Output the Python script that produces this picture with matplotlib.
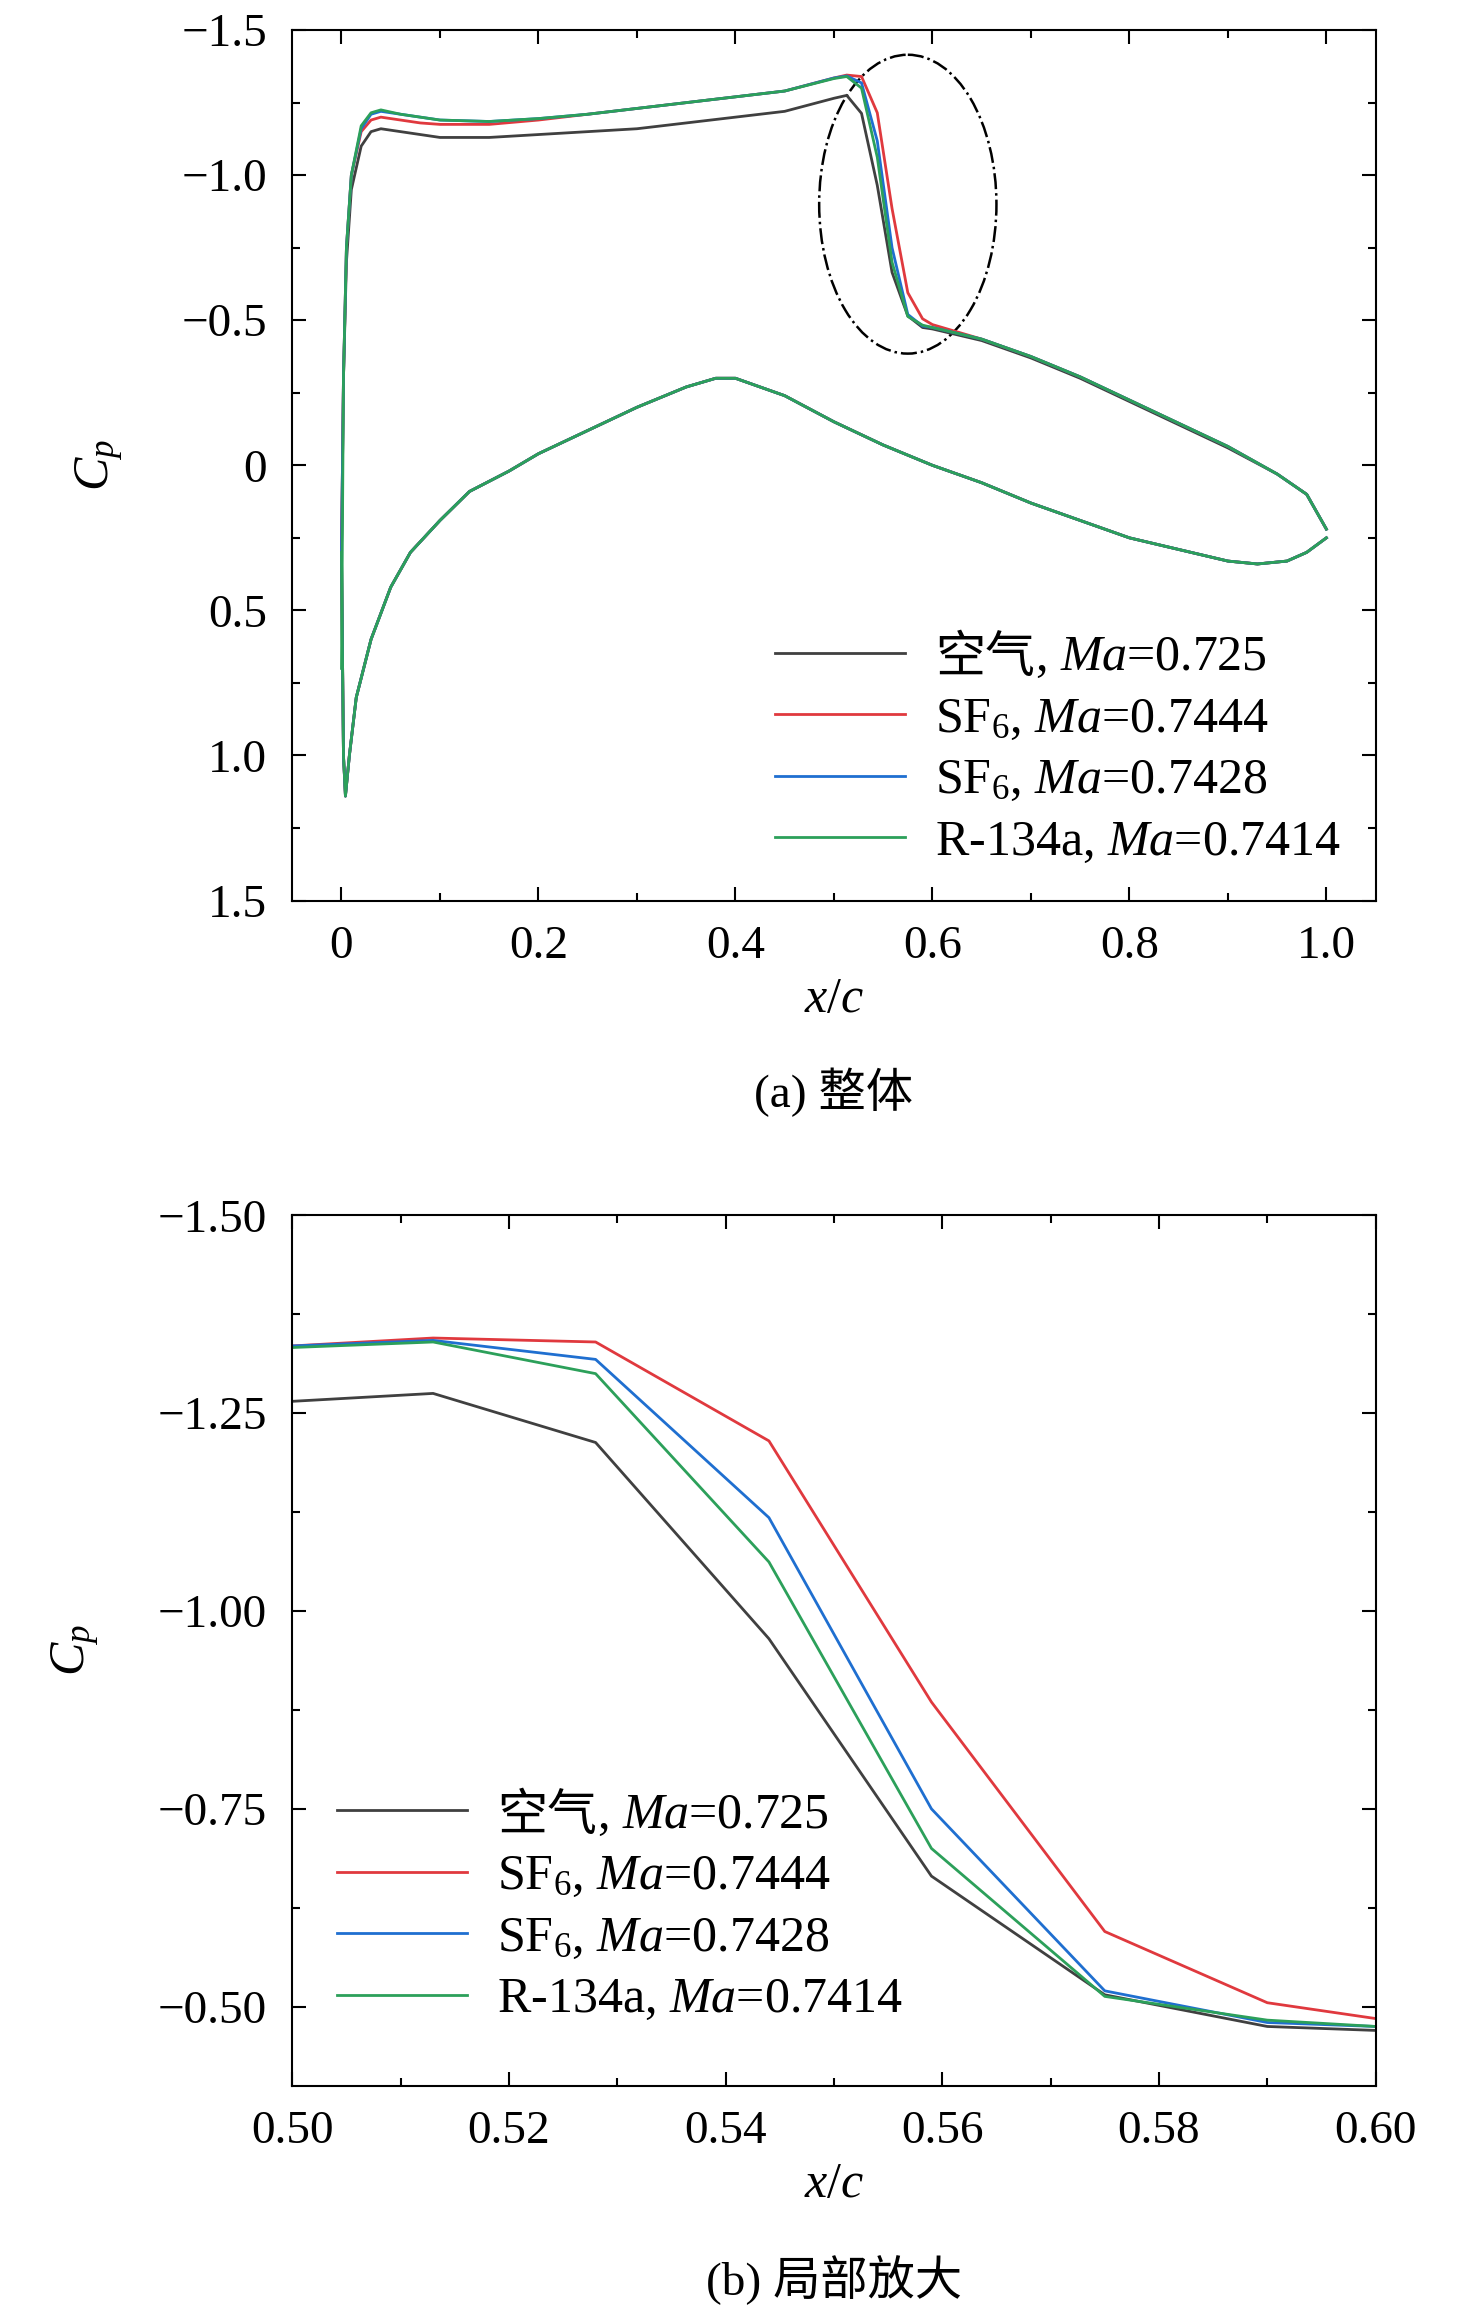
import numpy as np
import matplotlib
matplotlib.use("Agg")
import matplotlib.pyplot as plt
from matplotlib.patches import Ellipse
from matplotlib.ticker import MultipleLocator, FuncFormatter

plt.rcParams['font.family'] = ['Liberation Serif', 'Noto Sans CJK SC']
plt.rcParams['mathtext.fontset'] = 'custom'
plt.rcParams['mathtext.rm'] = 'Liberation Serif'
plt.rcParams['mathtext.it'] = 'Liberation Serif:italic'
plt.rcParams['axes.unicode_minus'] = True

air_name = '空气'
labels = ['        , $\\it{Ma}$=0.725', 'SF$_6$, $\\it{Ma}$=0.7444',
          'SF$_6$, $\\it{Ma}$=0.7428', 'R-134a, $\\it{Ma}$=0.7414']
colors = ['#404040', '#e0393e', '#1f6fd0', '#2ca05a']

# upper surface
x_up = [0, 0.002, 0.005, 0.01, 0.02, 0.03, 0.04, 0.06, 0.08, 0.1, 0.15, 0.2, 0.25, 0.3,
        0.35, 0.4, 0.45, 0.5, 0.513, 0.528, 0.544, 0.559, 0.575, 0.59, 0.6, 0.65, 0.7,
        0.75, 0.8, 0.85, 0.9, 0.95, 0.98, 1.0]
cp_air_up = [0.3, -0.3, -0.7, -0.95, -1.1, -1.15, -1.16, -1.15, -1.14, -1.13, -1.13, -1.14,
             -1.15, -1.16, -1.18, -1.2, -1.22, -1.265, -1.275, -1.213, -0.965, -0.665, -0.515,
             -0.475, -0.47, -0.43, -0.37, -0.3, -0.22, -0.14, -0.06, 0.03, 0.1, 0.22]
cp_sf6a_up = [0.3, -0.3, -0.75, -1.0, -1.15, -1.19, -1.2, -1.19, -1.18, -1.175, -1.175, -1.19,
              -1.21, -1.23, -1.25, -1.27, -1.29, -1.335, -1.345, -1.34, -1.215, -0.885, -0.595,
              -0.505, -0.485, -0.435, -0.375, -0.305, -0.225, -0.145, -0.065, 0.03, 0.1, 0.22]
cp_sf6b_up = [0.3, -0.3, -0.75, -1.0, -1.16, -1.21, -1.22, -1.21, -1.2, -1.19, -1.185, -1.195,
              -1.21, -1.23, -1.25, -1.27, -1.29, -1.335, -1.342, -1.318, -1.118, -0.75, -0.52,
              -0.48, -0.475, -0.435, -0.375, -0.305, -0.225, -0.145, -0.065, 0.03, 0.1, 0.22]
cp_r134_up = [0.7, -0.3, -0.75, -1.0, -1.17, -1.215, -1.225, -1.21, -1.2, -1.19, -1.185, -1.195,
              -1.21, -1.23, -1.25, -1.27, -1.29, -1.333, -1.34, -1.30, -1.062, -0.70, -0.513,
              -0.483, -0.475, -0.435, -0.375, -0.305, -0.225, -0.145, -0.065, 0.03, 0.1, 0.22]

# lower surface
x_lo = [0, 0.002, 0.004, 0.008, 0.015, 0.03, 0.05, 0.07, 0.1, 0.13, 0.17, 0.2, 0.25, 0.3,
        0.35, 0.38, 0.4, 0.45, 0.5, 0.55, 0.6, 0.65, 0.7, 0.75, 0.8, 0.85, 0.9, 0.93,
        0.96, 0.98, 1.0]
cp_lo = [0.3, 1.0, 1.14, 1.0, 0.8, 0.6, 0.42, 0.3, 0.19, 0.09, 0.02, -0.04, -0.12, -0.2,
         -0.27, -0.3, -0.3, -0.24, -0.15, -0.07, 0.0, 0.06, 0.13, 0.19, 0.25, 0.29, 0.33,
         0.34, 0.33, 0.3, 0.25]
cp_up_all = [cp_air_up, cp_sf6a_up, cp_sf6b_up, cp_r134_up]

fig = plt.figure(figsize=(14.76, 23.15), dpi=100)
ax1 = fig.add_axes([0.198, 0.611, 0.734, 0.376])
ax2 = fig.add_axes([0.198, 0.099, 0.734, 0.376])

fmt = FuncFormatter(lambda v, p: '0' if abs(v) < 1e-9 else f'{v:.1f}'.replace('-', '\u2212'))
fmt2 = FuncFormatter(lambda v, p: f'{v:.2f}'.replace('-', '\u2212'))

for cp, c, lab in zip(cp_up_all, colors, labels):
    ax1.plot(x_up, cp, color=c, lw=2, label=lab)
    ax1.plot(x_lo, cp_lo, color=c, lw=2)
    ax2.plot(x_up, cp, color=c, lw=2, label=lab)

ax1.add_patch(Ellipse((0.575, -0.9), 0.18, 1.03, fill=False, ls='-.', lw=1.8, color='black'))
ax1.set_xlim(-0.05, 1.05)
ax1.set_ylim(1.5, -1.5)
ax1.xaxis.set_major_locator(MultipleLocator(0.2))
ax1.xaxis.set_minor_locator(MultipleLocator(0.1))
ax1.yaxis.set_major_locator(MultipleLocator(0.5))
ax1.yaxis.set_minor_locator(MultipleLocator(0.25))
ax1.xaxis.set_major_formatter(FuncFormatter(lambda v, p: '0' if abs(v) < 1e-9 else f'{v:.1f}'))
ax1.yaxis.set_major_formatter(fmt)

ax2.set_xlim(0.5, 0.6)
ax2.set_ylim(-0.4, -1.5)
ax2.xaxis.set_major_locator(MultipleLocator(0.02))
ax2.xaxis.set_minor_locator(MultipleLocator(0.01))
ax2.yaxis.set_major_locator(MultipleLocator(0.25))
ax2.yaxis.set_minor_locator(MultipleLocator(0.125))
ax2.xaxis.set_major_formatter(FuncFormatter(lambda v, p: f'{v:.2f}'))
ax2.yaxis.set_major_formatter(fmt2)

for ax in (ax1, ax2):
    ax.tick_params(which='both', direction='in', top=True, right=True, labelsize=34, width=1.5)
    ax.tick_params(which='major', length=10, pad=18)
    ax.tick_params(which='minor', length=6)
    for s in ax.spines.values():
        s.set_linewidth(1.5)
    ax.set_xlabel('$x/c$', fontsize=36, labelpad=6)
    ax.set_ylabel('$C_p$', fontsize=36, labelpad=40)

leg1 = ax1.legend(loc='lower right', frameon=False, fontsize=36, handlelength=2.6,
                  borderaxespad=0.3, labelspacing=0.3, handletextpad=0.6)
leg2 = ax2.legend(loc='lower left', bbox_to_anchor=(0.0, 0.02), frameon=False, fontsize=36,
                  handlelength=2.6, labelspacing=0.3, handletextpad=0.6)

fig.canvas.draw()
inv = fig.transFigure.inverted()
for leg in (leg1, leg2):
    bb = leg.get_texts()[0].get_window_extent()
    x0, y0 = inv.transform((bb.x0, (bb.y0 + bb.y1) / 2))
    fig.text(x0, y0, air_name, fontsize=36, family='Noto Sans CJK SC', ha='left', va='center')

fig.text(0.565, 0.528, '(a) 整体', fontsize=34, ha='center', va='center')
fig.text(0.565, 0.015, '(b) 局部放大', fontsize=34, ha='center', va='center')

fig.savefig('out.png', dpi=100)
